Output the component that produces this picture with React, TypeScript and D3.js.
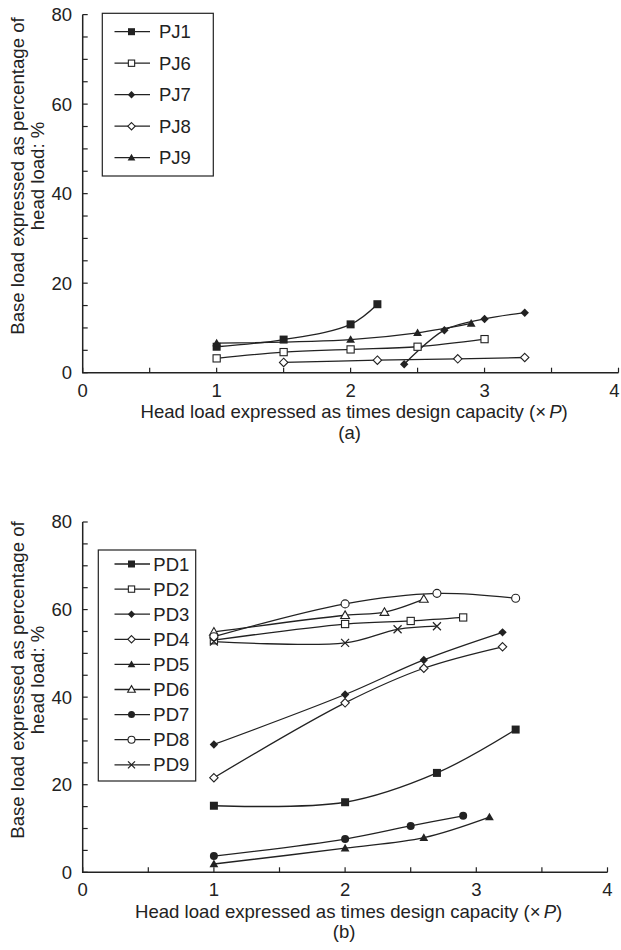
import React from "react";
import * as d3 from "d3";

// ---------- data ----------
const xTicksMajor = [0, 1, 2, 3, 4];
const yTicksMajor = [0, 20, 40, 60, 80];
const xTitle = "Head load expressed as times design capacity (";
const yTitle1 = "Base load expressed as percentage of";
const yTitle2 = "head load: %";

// panel (a)
const topNames = ["PJ1", "PJ6", "PJ7", "PJ8", "PJ9"];
const topMarkers = ["sqF", "sqO", "diF", "diO", "trF"];
const PJ1: [number, number][] = [[1, 5.8], [1.5, 7.4], [2, 10.8], [2.2, 15.3]];
const PJ6: [number, number][] = [[1, 3.2], [1.5, 4.6], [2, 5.2], [2.5, 5.8], [3, 7.5]];
const PJ7: [number, number][] = [[2.4, 1.9], [2.7, 9.5], [3, 12.0], [3.3, 13.4]];
const PJ8: [number, number][] = [[1.5, 2.3], [2.2, 2.8], [2.8, 3.1], [3.3, 3.4]];
const PJ9: [number, number][] = [[1, 6.6], [2, 7.4], [2.5, 8.9], [2.9, 11.0]];
const topSeries = [PJ1, PJ6, PJ7, PJ8, PJ9];

// panel (b)
const botNames = ["PD1", "PD2", "PD3", "PD4", "PD5", "PD6", "PD7", "PD8", "PD9"];
const botMarkers = ["sqF", "sqO", "diF", "diO", "trF", "trO", "ciF", "ciO", "x"];
const PD1: [number, number][] = [[1, 15.2], [2, 16.0], [2.7, 22.7], [3.3, 32.6]];
const PD2: [number, number][] = [[1, 53.0], [2, 56.7], [2.5, 57.4], [2.9, 58.2]];
const PD3: [number, number][] = [[1, 29.2], [2, 40.6], [2.6, 48.5], [3.2, 54.8]];
const PD4: [number, number][] = [[1, 21.6], [2, 38.7], [2.6, 46.6], [3.2, 51.5]];
const PD5: [number, number][] = [[1, 1.9], [2, 5.5], [2.6, 7.9], [3.1, 12.6]];
const PD6: [number, number][] = [[1, 54.9], [2, 58.7], [2.3, 59.4], [2.6, 62.4]];
const PD7: [number, number][] = [[1, 3.7], [2, 7.6], [2.5, 10.6], [2.9, 12.9]];
const PD8: [number, number][] = [[1, 53.8], [2, 61.3], [2.7, 63.7], [3.3, 62.6]];
const PD9: [number, number][] = [[1, 52.7], [2, 52.4], [2.4, 55.5], [2.7, 56.2]];
const botSeries = [PD1, PD2, PD3, PD4, PD5, PD6, PD7, PD8, PD9];

const INK = "#222";
const FONT = "'Liberation Sans', Arial, Helvetica, sans-serif";

function Marker({ type, x, y, s }: { type: string; x: number; y: number; s: number }) {
  const sw = 1.1;
  switch (type) {
    case "sqF":
      return <rect x={x - s} y={y - s} width={2 * s} height={2 * s} fill={INK} />;
    case "sqO":
      return <rect x={x - s * 0.9} y={y - s * 0.9} width={1.8 * s} height={1.8 * s} fill="#fff" stroke={INK} strokeWidth={sw} />;
    case "diF":
    case "diO": {
      const d = s * 1.05;
      const p = `M${x},${y - d}L${x + d},${y}L${x},${y + d}L${x - d},${y}Z`;
      return type === "diF" ? <path d={p} fill={INK} /> : <path d={p} fill="#fff" stroke={INK} strokeWidth={sw} />;
    }
    case "trF":
    case "trO": {
      const w = s * 1.1;
      const p = `M${x},${y - s * 1.1}L${x + w},${y + s * 0.8}L${x - w},${y + s * 0.8}Z`;
      return type === "trF" ? <path d={p} fill={INK} /> : <path d={p} fill="#fff" stroke={INK} strokeWidth={sw} />;
    }
    case "ciF":
      return <circle cx={x} cy={y} r={s} fill={INK} />;
    case "ciO":
      return <circle cx={x} cy={y} r={s} fill="#fff" stroke={INK} strokeWidth={sw} />;
    case "x":
      return (
        <path d={`M${x - s},${y - s}L${x + s},${y + s}M${x - s},${y + s}L${x + s},${y - s}`} stroke={INK} strokeWidth={1.2} fill="none" />
      );
  }
  return null;
}

type PanelProps = {
  x0: number; x1: number; yBot: number; yTop: number;
  series: [number, number][][]; names: string[]; markers: string[];
  legend: { x: number; y: number; w: number; h: number; first: number; step: number; textX: number; fs: number; ms: number };
  ms: number; caption: string; yTitleCenter: number; xTitleShift: number;
};

function Panel(p: PanelProps) {
  const xs = d3.scaleLinear().domain([0, 4]).range([p.x0, p.x1]);
  const ys = d3.scaleLinear().domain([0, 80]).range([p.yBot, p.yTop]);
  const line = d3
    .line<[number, number]>()
    .x((d) => xs(d[0]))
    .y((d) => ys(d[1]))
    .curve(d3.curveCatmullRom.alpha(0.5));
  const xMinor = d3.range(0, 4.01, 0.5);
  const yMinor = d3.range(0, 80.1, 5);
  const L = p.legend;
  const xc = (p.x0 + p.x1) / 2 + p.xTitleShift;
  return (
    <g fontFamily={FONT} fill={INK}>
      {/* lines */}
      {p.series.map((s, i) => (
        <path key={"l" + i} d={line(s) || ""} fill="none" stroke={INK} strokeWidth={1.3} />
      ))}
      {/* markers */}
      {p.series.map((s, i) =>
        s.map((d, j) => <Marker key={"m" + i + "_" + j} type={p.markers[i]} x={xs(d[0])} y={ys(d[1])} s={p.ms} />)
      )}
      {/* axes */}
      <path d={`M${p.x0},${p.yTop}V${p.yBot}H${p.x1}`} fill="none" stroke={INK} strokeWidth={1.5} />
      {yMinor.map((v) => (
        <line key={"yt" + v} x1={p.x0} x2={p.x0 + 5} y1={ys(v)} y2={ys(v)} stroke={INK} strokeWidth={1.2} />
      ))}
      {xMinor.map((v) => (
        <line key={"xt" + v} x1={xs(v)} x2={xs(v)} y1={p.yBot} y2={p.yBot - 5} stroke={INK} strokeWidth={1.2} />
      ))}
      {yTicksMajor.map((v) => (
        <text key={"yl" + v} x={72} y={ys(v)} dy="0.35em" textAnchor="end" fontSize={18.5}>
          {v}
        </text>
      ))}
      {xTicksMajor.map((v) => (
        <text key={"xl" + v} x={Math.min(xs(v), 614.5)} y={p.yBot + 24} textAnchor="middle" fontSize={18.5}>
          {v}
        </text>
      ))}
      <text x={xc} y={p.yBot + 45.6} textAnchor="middle" fontSize={18.6}>
        {xTitle}
        <tspan>×</tspan>
        <tspan dx={3} fontStyle="italic">P</tspan>)
      </text>
      <text x={(p.x0 + p.x1) / 2 - 1} y={p.yBot + 66} textAnchor="middle" fontSize={18.5}>
        {p.caption}
      </text>
      <text transform={`translate(24,${p.yTitleCenter}) rotate(-90)`} textAnchor="middle" fontSize={18.6}>
        {yTitle1}
      </text>
      <text transform={`translate(43.5,${p.yTitleCenter}) rotate(-90)`} textAnchor="middle" fontSize={18.6}>
        {yTitle2}
      </text>
      {/* legend */}
      <rect x={L.x} y={L.y} width={L.w} height={L.h} fill="#fff" stroke={INK} strokeWidth={1.2} />
      {p.names.map((n, i) => {
        const yy = L.first + L.step * i;
        return (
          <g key={"lg" + n}>
            <line x1={114.5} x2={150} y1={yy} y2={yy} stroke={INK} strokeWidth={1.3} />
            <Marker type={p.markers[i]} x={131.5} y={yy} s={L.ms} />
            <text x={L.textX} y={yy} dy="0.36em" fontSize={L.fs}>
              {n}
            </text>
          </g>
        );
      })}
    </g>
  );
}

export default function App() {
  return (
    <svg width={621} height={950} style={{ position: "absolute", left: 0, top: 0, background: "#fff" }}>
      <rect width={621} height={950} fill="#fff" />
      <Panel
        x0={82.7}
        x1={618.5}
        yBot={372.7}
        yTop={14.6}
        series={topSeries}
        names={topNames}
        markers={topMarkers}
        ms={4}
        legend={{ x: 102.3, y: 13.3, w: 111, h: 162.7, first: 31.7, step: 31.5, textX: 159, fs: 18.5, ms: 3.5 }}
        caption="(a)"
        yTitleCenter={176}
        xTitleShift={3.5}
      />
      <Panel
        x0={82.7}
        x1={607.5}
        yBot={872.3}
        yTop={522}
        series={botSeries}
        names={botNames}
        markers={botMarkers}
        ms={4}
        legend={{ x: 98.3, y: 550, w: 97.4, h: 231, first: 564, step: 25.1, textX: 153.3, fs: 18.5, ms: 3.5 }}
        caption="(b)"
        yTitleCenter={680}
        xTitleShift={3.5}
      />
    </svg>
  );
}
